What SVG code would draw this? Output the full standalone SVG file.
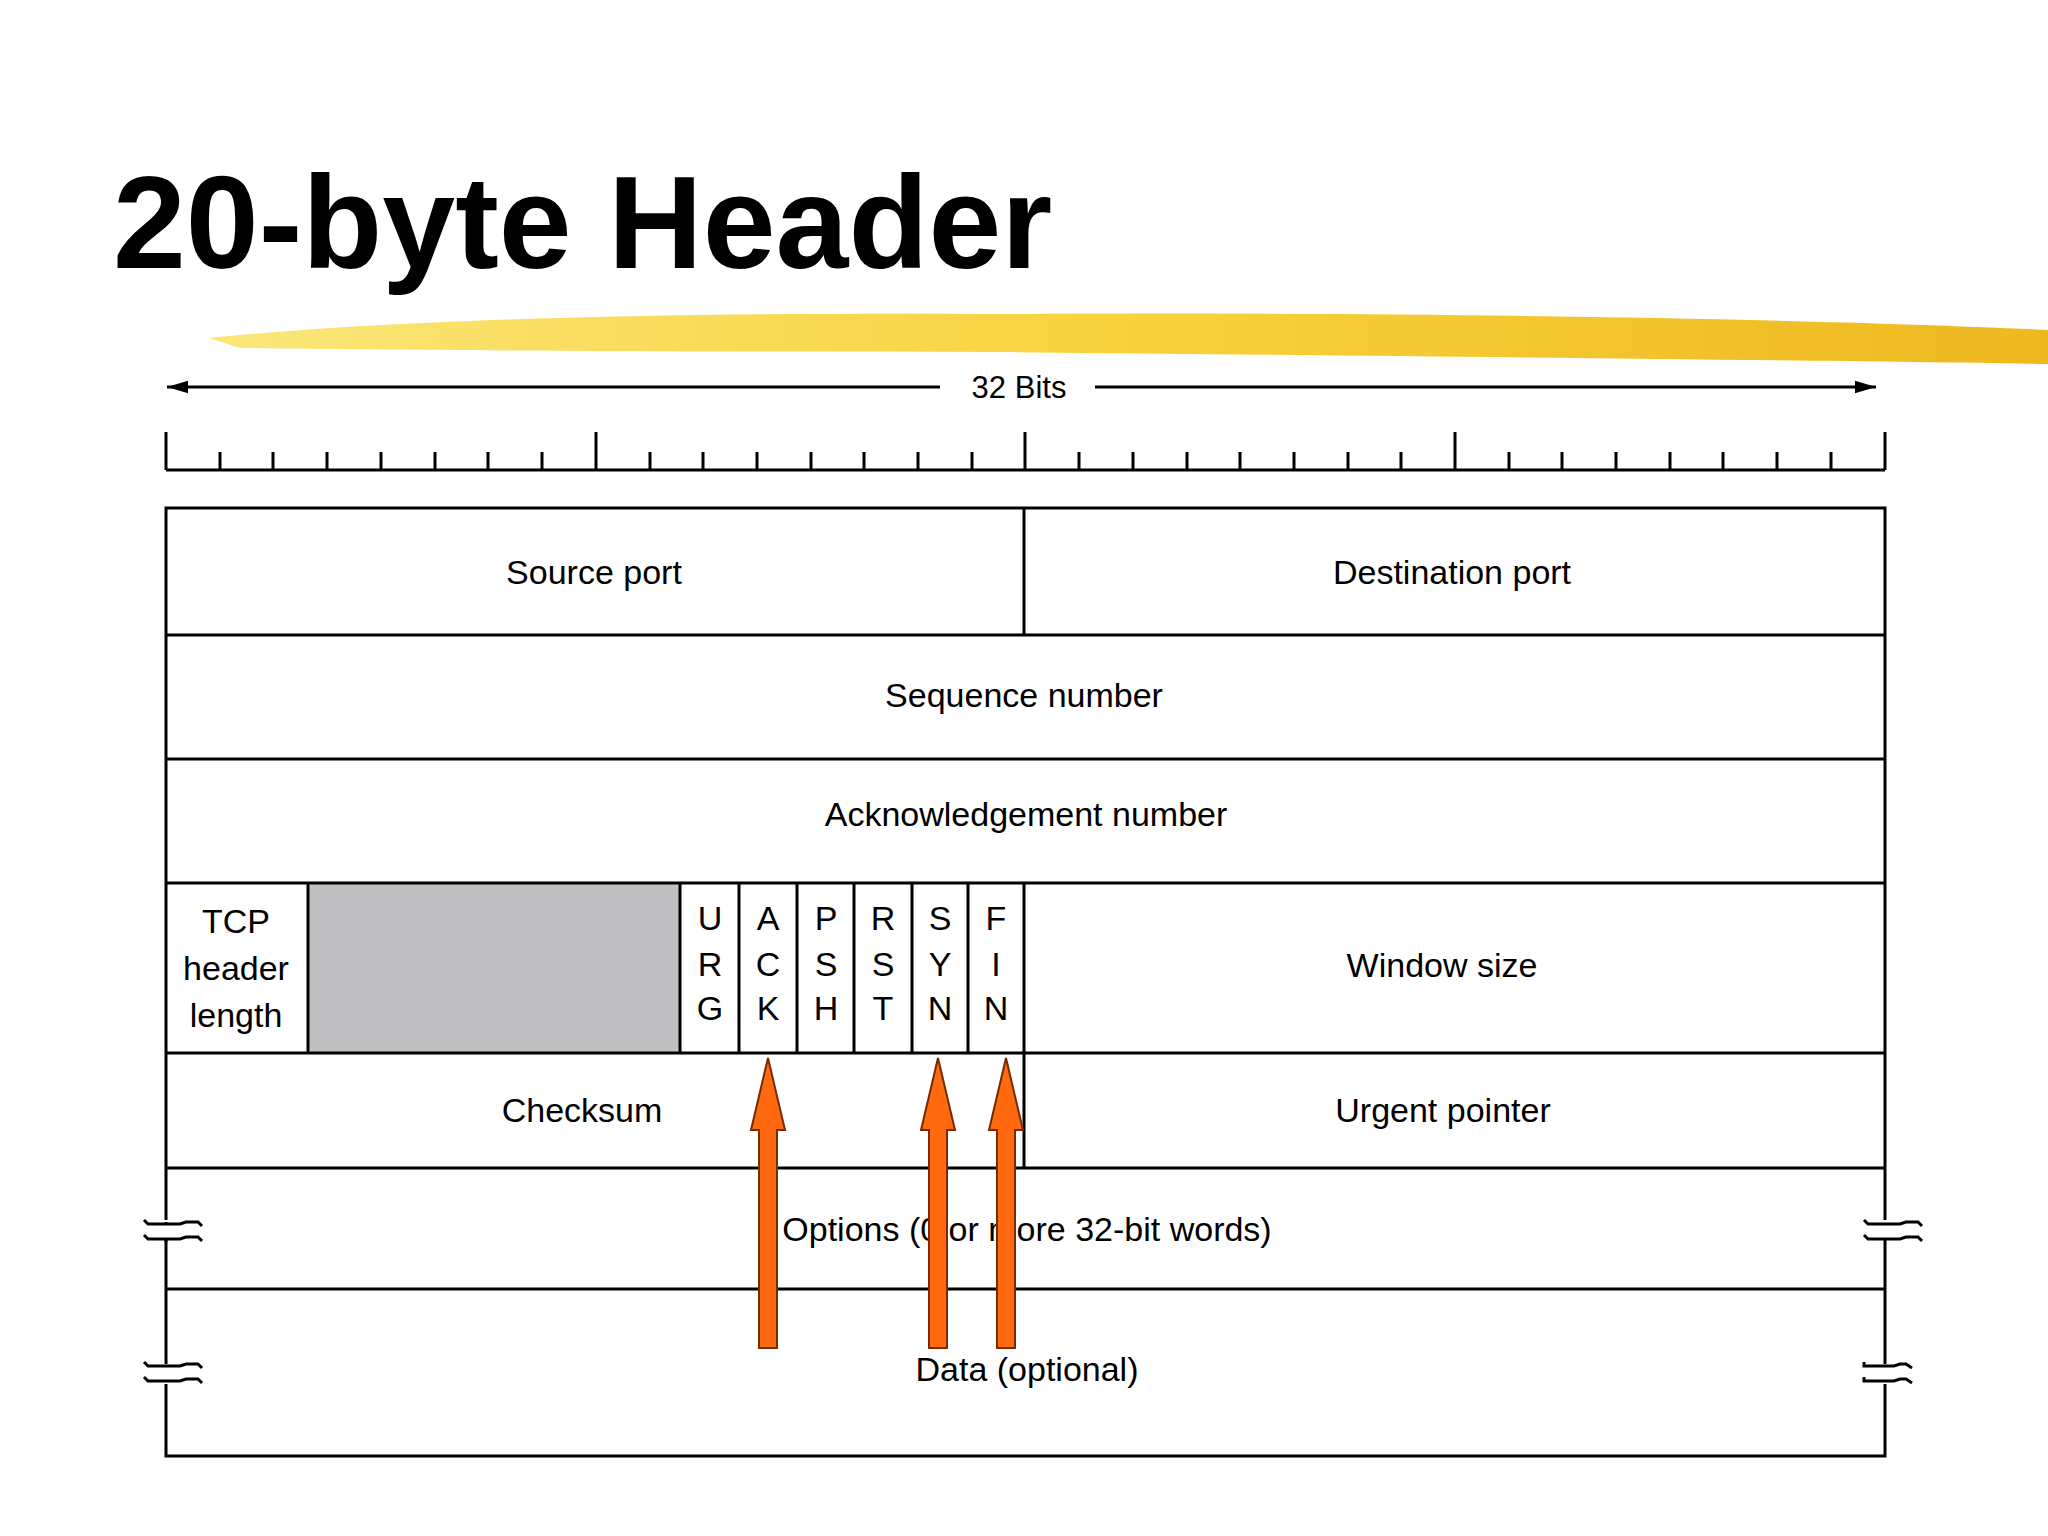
<svg xmlns="http://www.w3.org/2000/svg" width="2048" height="1536" viewBox="0 0 2048 1536">
<defs>
<linearGradient id="yg" x1="0" x2="1" y1="0" y2="0">
<stop offset="0" stop-color="#fbe67a"/><stop offset="0.5" stop-color="#f7d23c"/><stop offset="1" stop-color="#eeb820"/>
</linearGradient>
<marker id="ah" viewBox="0 0 10 10" refX="10" refY="5" markerWidth="7" markerHeight="7" orient="auto-start-reverse"><path d="M0,2 L10,5 L0,8 z" fill="#000"/></marker>
</defs>
<style>
text{font-family:"Liberation Sans",Arial,sans-serif;fill:#000}
.t{font-size:34px;text-anchor:middle}
.ln{stroke:#000;stroke-width:3;fill:none}
.br{stroke:#000;stroke-width:3;fill:none}
.arr{fill:#ff6a10;stroke:#7a2a00;stroke-width:2}
</style>
<rect width="2048" height="1536" fill="#fff"/>
<text x="113" y="268" style="font-size:131px;font-weight:bold">20-byte Header</text>
<path d="M209,338 C400,318 700,312 1000,314 C1400,312 1800,318 2048,330 L2048,364 C1800,360 1400,356 1000,352 C700,352 400,350 240,348 Z" fill="url(#yg)"/>
<g id="bits">
<line class="ln" x1="167" y1="387" x2="940" y2="387" marker-start="url(#ah)"/>
<line class="ln" x1="1095" y1="387" x2="1876" y2="387" marker-end="url(#ah)"/>
<text x="1019" y="398" style="font-size:31px;text-anchor:middle">32 Bits</text>
<path class="ln" d="M166,470 H1885 M166,432 V470 M596,432 V470 M1025,432 V470 M1455,432 V470 M1885,432 V470
M220,452 V470 M273,452 V470 M327,452 V470 M381,452 V470 M435,452 V470 M488,452 V470 M542,452 V470
M650,452 V470 M703,452 V470 M757,452 V470 M811,452 V470 M864,452 V470 M918,452 V470 M972,452 V470
M1079,452 V470 M1133,452 V470 M1187,452 V470 M1240,452 V470 M1294,452 V470 M1348,452 V470 M1401,452 V470
M1509,452 V470 M1562,452 V470 M1616,452 V470 M1670,452 V470 M1723,452 V470 M1777,452 V470 M1831,452 V470"/>
</g>
<g id="table">
<rect x="308" y="883" width="372" height="170" fill="#c0bfc2"/>
<path class="ln" d="M166,508 H1885 V1456 H166 Z M166,635 H1885 M166,759 H1885 M166,883 H1885 M166,1053 H1885 M166,1168 H1885 M166,1289 H1885
M1024,508 V635 M1024,883 V1168 M308,883 V1053 M680,883 V1053 M739,883 V1053 M797,883 V1053 M854,883 V1053 M912,883 V1053 M968,883 V1053"/>
</g>
<g id="breaks">
<rect x="150" y="1220" width="40" height="20" fill="#fff"/>
<rect x="150" y="1364" width="40" height="20" fill="#fff"/>
<rect x="1870" y="1220" width="40" height="20" fill="#fff"/>
<rect x="1870" y="1364" width="40" height="20" fill="#fff"/>
<path class="br" d="M144,1220 l4,4 h32 l6,-2 h12 l4,4 M144,1235 l4,4 h32 l6,-2 h12 l4,4 M166,1224 V1222 M166,1239 V1242
M144,1362 l4,4 h32 l6,-2 h12 l4,4 M144,1377 l4,4 h32 l6,-2 h12 l4,4
M1864,1220 l4,4 h32 l6,-2 h12 l4,4 M1864,1235 l4,4 h32 l6,-2 h12 l4,4
M1864,1362 v4 h30 l6,-2 h6 l6,4 M1864,1377 v4 h30 l6,-2 h6 l6,4"/>
</g>
<g id="labels">
<text class="t" x="594" y="584">Source port</text>
<text class="t" x="1452" y="584">Destination port</text>
<text class="t" x="1024" y="707">Sequence number</text>
<text class="t" x="1026" y="826">Acknowledgement number</text>
<text class="t" x="236" y="933">TCP</text>
<text class="t" x="236" y="980">header</text>
<text class="t" x="236" y="1027">length</text>
<text class="t" x="710" y="930">U</text><text class="t" x="710" y="976">R</text><text class="t" x="710" y="1020">G</text>
<text class="t" x="768" y="930">A</text><text class="t" x="768" y="976">C</text><text class="t" x="768" y="1020">K</text>
<text class="t" x="826" y="930">P</text><text class="t" x="826" y="976">S</text><text class="t" x="826" y="1020">H</text>
<text class="t" x="883" y="930">R</text><text class="t" x="883" y="976">S</text><text class="t" x="883" y="1020">T</text>
<text class="t" x="940" y="930">S</text><text class="t" x="940" y="976">Y</text><text class="t" x="940" y="1020">N</text>
<text class="t" x="996" y="930">F</text><text class="t" x="996" y="976">I</text><text class="t" x="996" y="1020">N</text>
<text class="t" x="1442" y="977">Window size</text>
<text class="t" x="582" y="1122">Checksum</text>
<text class="t" x="1443" y="1122">Urgent pointer</text>
<text class="t" x="1027" y="1241">Options (0 or more 32-bit words)</text>
<text class="t" x="1027" y="1381">Data (optional)</text>
</g>
<g id="arrows">
<path class="arr" d="M759,1348 V1130 H751 L768,1058 L785,1130 H777 V1348 Z"/>
<path class="arr" d="M929,1348 V1130 H921 L938,1058 L955,1130 H947 V1348 Z"/>
<path class="arr" d="M997,1348 V1130 H989 L1006,1058 L1023,1130 H1015 V1348 Z"/>
</g>
</svg>
